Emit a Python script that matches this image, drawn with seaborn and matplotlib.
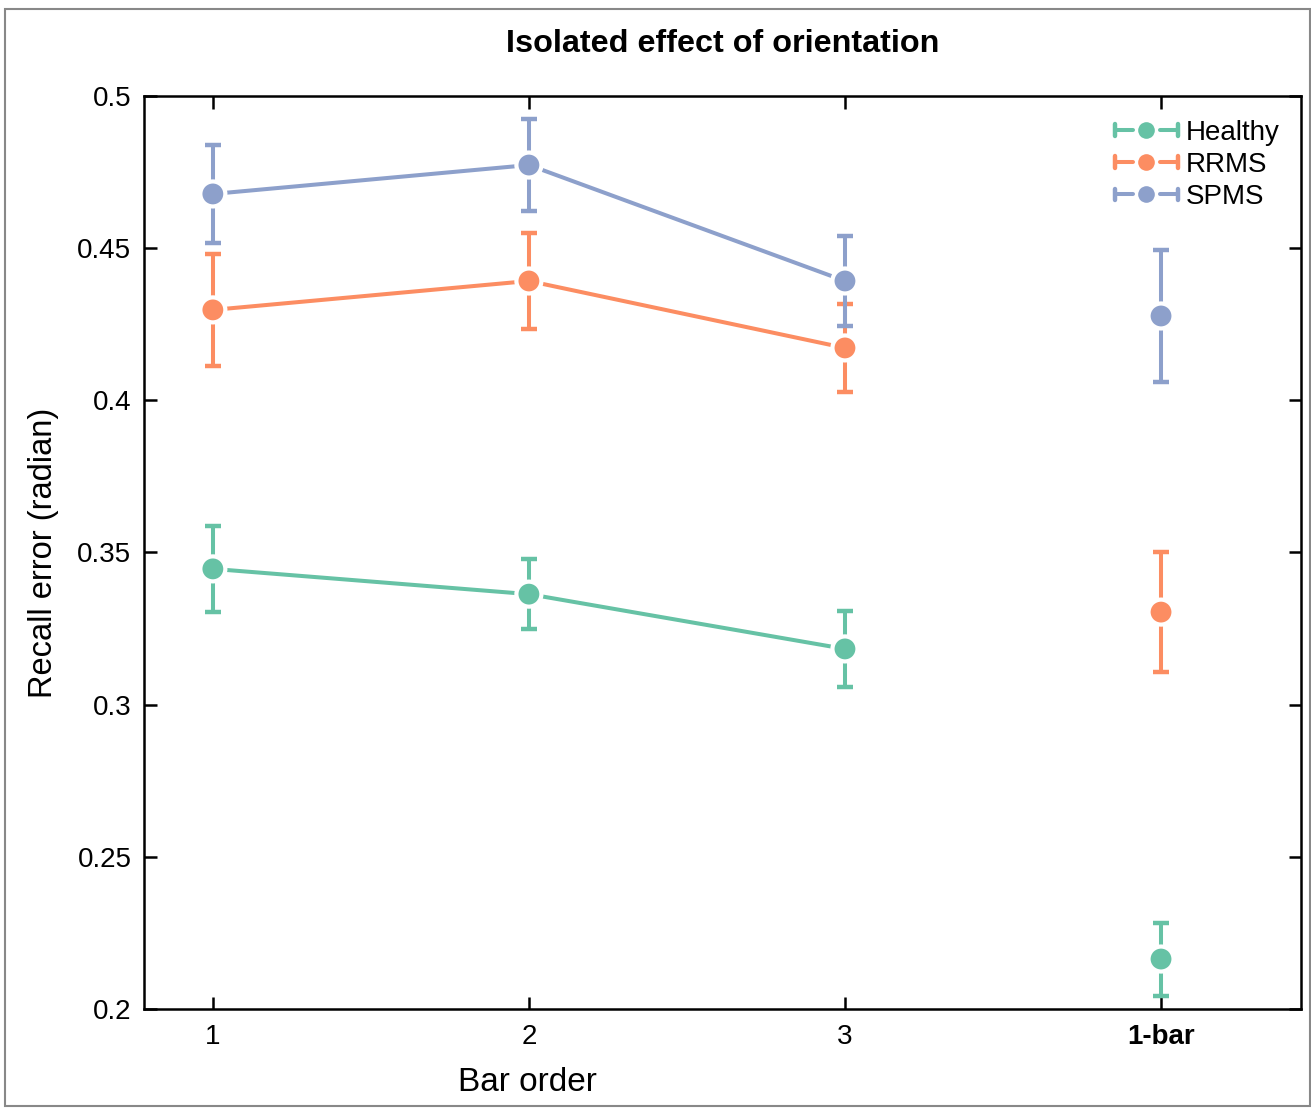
import matplotlib
matplotlib.use("Agg")
import matplotlib.pyplot as plt
from matplotlib.legend_handler import HandlerBase
from matplotlib.lines import Line2D
from matplotlib.patches import Rectangle
import numpy as np
import pandas as pd
import seaborn as sns

# ── Data ─────────────────────────────────────────
groups = ["Healthy", "RRMS", "SPMS"]
bar_order = [1, 2, 3]
tick_labels = ["1", "2", "3", "1-bar"]

healthy_mean = [0.3446, 0.3363, 0.3183]
healthy_err = [0.0141, 0.0115, 0.0124]
rrms_mean = [0.4297, 0.4392, 0.4172]
rrms_err = [0.0183, 0.0157, 0.0145]
spms_mean = [0.4678, 0.4773, 0.4392]
spms_err = [0.0160, 0.0151, 0.0148]

onebar_mean = [0.2164, 0.3304, 0.4277]
onebar_err = [0.0120, 0.0197, 0.0217]

colors = sns.color_palette("Set2", 3)

sns.set_theme(style="ticks")
plt.rcParams["font.family"] = ["Liberation Sans", "DejaVu Sans"]
plt.rcParams["text.color"] = "black"
plt.rcParams["axes.labelcolor"] = "black"

rows = []
for g, m, e in zip(groups, [healthy_mean, rrms_mean, spms_mean],
                   [healthy_err, rrms_err, spms_err]):
    for x, mv, ev in zip(bar_order, m, e):
        rows.append({"group": g, "order": x, "error": mv, "sem": ev})
df = pd.DataFrame(rows)
df_one = pd.DataFrame({"group": groups, "order": 4,
                       "error": onebar_mean, "sem": onebar_err})

fig = plt.figure(figsize=(13.11, 11.08), dpi=100)
ax = fig.add_axes([0.1098, 0.0894, 0.8826, 0.824])

LW = 2.9
MS = 18
for g, c in zip(groups, colors):
    sub = pd.concat([df[df.group == g], df_one[df_one.group == g]])
    ax.errorbar(sub["order"], sub["error"], yerr=sub["sem"], fmt="none",
                ecolor=c, elinewidth=LW, capsize=6, capthick=3.2, zorder=2)

sns.lineplot(data=df, x="order", y="error", hue="group", palette=colors,
             linewidth=LW, legend=False, ax=ax, zorder=3)
sns.scatterplot(data=pd.concat([df, df_one]), x="order", y="error",
                hue="group", palette=colors, s=MS ** 2, edgecolor="white",
                linewidth=3, legend=False, ax=ax, zorder=4)


class ErrHandler(HandlerBase):
    def create_artists(self, legend, orig_handle, xdescent, ydescent,
                       width, height, fontsize, trans):
        c = orig_handle.get_color()
        x0, x1 = -xdescent, -xdescent + width
        cy = height / 2 - ydescent
        cx = (x0 + x1) / 2
        gap = 0.22 * width
        ch = 0.6 * height
        arts = [
            Line2D([x0, cx - gap], [cy, cy], color=c, lw=LW),
            Line2D([cx + gap, x1], [cy, cy], color=c, lw=LW),
            Line2D([x0, x0], [cy - ch / 2, cy + ch / 2], color=c, lw=3.2),
            Line2D([x1, x1], [cy - ch / 2, cy + ch / 2], color=c, lw=3.2),
            Line2D([cx], [cy], marker="o", color=c, ms=14,
                   markeredgecolor="white", markeredgewidth=2),
        ]
        for a in arts:
            a.set_transform(trans)
        return arts


handles = [Line2D([], [], color=c) for c in colors]
ax.legend(handles, groups, handler_map={Line2D: ErrHandler()},
          loc="upper right", bbox_to_anchor=(0.996, 0.992), frameon=False,
          fontsize=20, handlelength=2.25, handletextpad=0.3,
          labelspacing=0.22, borderaxespad=0.2)

ax.set_xlim(0.782, 4.443)
ax.set_ylim(0.2, 0.5)
ax.set_xticks([1, 2, 3, 4])
ax.set_xticklabels(tick_labels)
ax.get_xticklabels()[-1].set_fontweight("bold")
ax.set_yticks([0.2, 0.25, 0.3, 0.35, 0.4, 0.45, 0.5])
ax.set_yticklabels(["0.2", "0.25", "0.3", "0.35", "0.4", "0.45", "0.5"])
ax.tick_params(direction="in", length=9, width=1.8, top=True, right=True,
               labelsize=20, colors="black")
ax.tick_params(axis="x", pad=11)
ax.tick_params(axis="y", pad=9)
for s in ax.spines.values():
    s.set_linewidth(1.8)
    s.set_color("black")

ax.set_xlabel("Bar order", fontsize=24)
ax.xaxis.set_label_coords(0.331, -0.064)
ax.set_ylabel("Recall error (radian)", fontsize=23.5)
ax.yaxis.set_label_coords(-0.073, 0.5)
ax.set_title("Isolated effect of orientation", fontsize=23.3,
             fontweight="bold", pad=31.5)

fig.patches.append(Rectangle((0.004, 0.002), 0.995, 0.99, transform=fig.transFigure,
                             fill=False, edgecolor="#888888", linewidth=1.5))

fig.savefig("out.png", dpi=100)
